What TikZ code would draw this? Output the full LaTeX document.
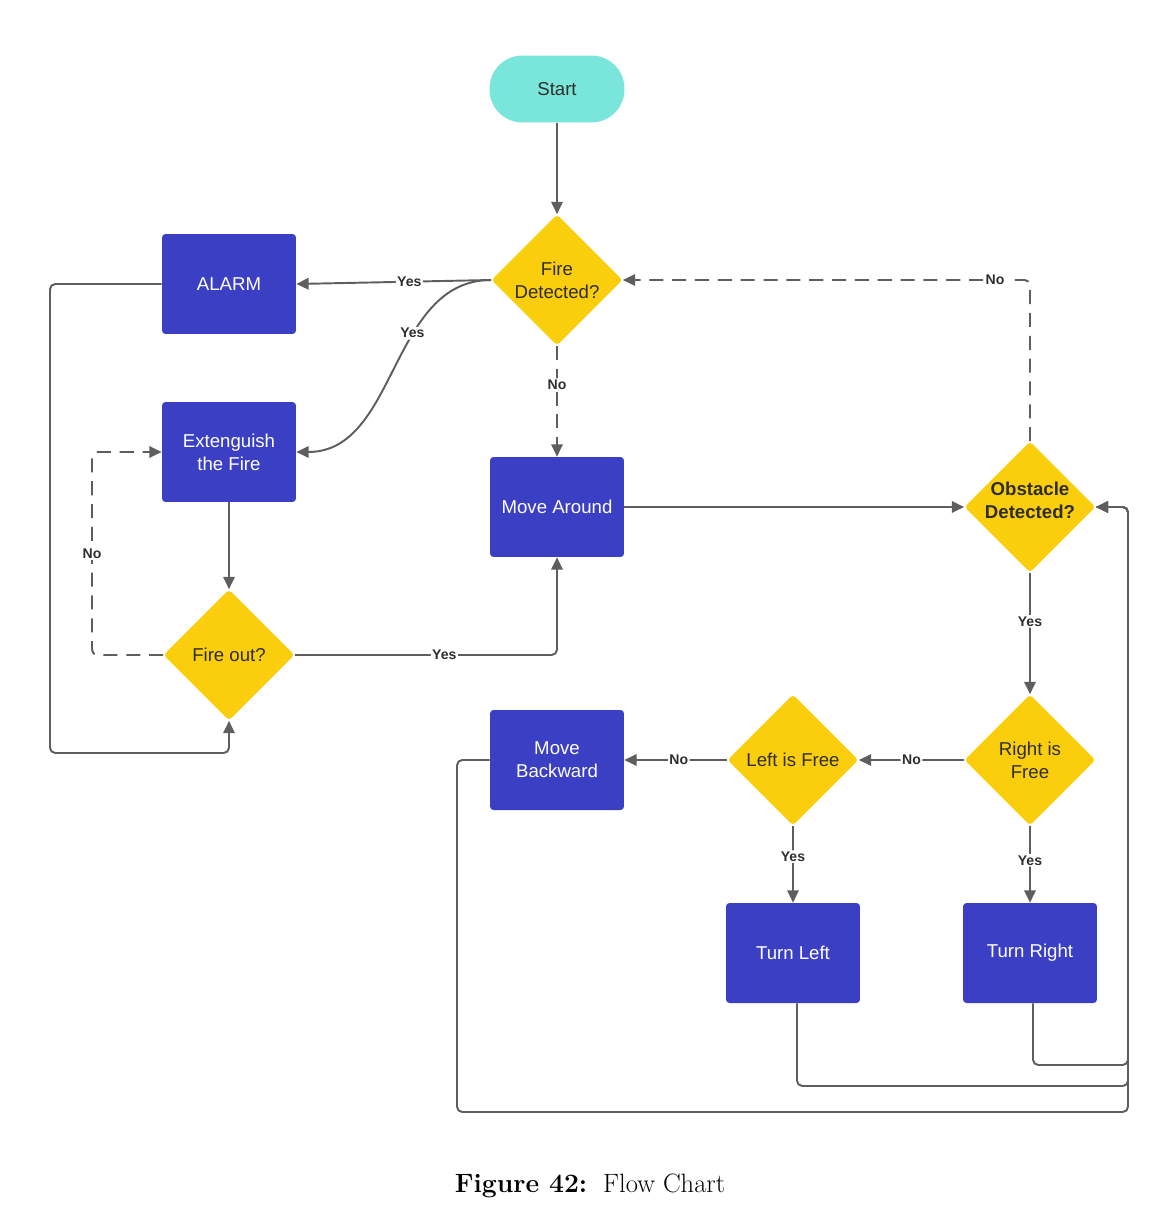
\documentclass[tikz,border=0pt]{standalone}
\usepackage{fontspec}
\newfontfamily\chartfont{Liberation Sans}
\usetikzlibrary{arrows.meta,positioning,shapes.geometric}

\definecolor{boxblue}{HTML}{3B3FC4}
\definecolor{diayellow}{HTML}{FACD0D}
\definecolor{startteal}{HTML}{7AE6DB}
\definecolor{linegray}{HTML}{5E5E5E}
\definecolor{darktext}{HTML}{2E2E2E}

\begin{document}
\begin{tikzpicture}[
    x=0.02cm, y=-0.02cm,
    align=center,
    font=\chartfont\fontsize{10.6}{13}\selectfont,
    >={Triangle[length=7pt,width=6.5pt]},
    term/.style={rectangle, rounded corners=0.66cm, fill=startteal,
      minimum width=2.7cm, minimum height=1.34cm, text=darktext},
    proc/.style={rectangle, rounded corners=2pt, fill=boxblue,
      minimum width=2.68cm, minimum height=2cm, text=white},
    decide/.style={diamond, aspect=1, rounded corners=2pt, fill=diayellow,
      minimum width=2.62cm, minimum height=2.62cm, inner sep=0pt, text=darktext},
    flow/.style={->, linegray, line width=1.1pt, rounded corners=3pt},
    noflow/.style={flow, dash pattern=on 8pt off 5pt},
    lbl/.style={fill=white, inner sep=0.8pt, text=darktext,
      font=\chartfont\fontsize{8}{9.6}\selectfont\bfseries}
  ]

  \useasboundingbox (0,0) rectangle (1149,1214);

  % main column

  \node (start)   [term]   at (557,89)   {Start};
  \node (fire)    [decide] at (557,280)  {Fire\\Detected?};
  \node (mvaround)[proc]   at (557,507)  {Move Around};
  \node (mback)   [proc]   at (557,760)  {Move\\Backward};

  % fire handling on the left

  \node (alarm)   [proc]   at (229,284)  {ALARM};
  \node (ext)     [proc]   at (229,452)  {Extenguish\\the Fire};
  \node (fout)    [decide] at (229,655)  {Fire out?};

  % obstacle handling on the right (text sits a little high)

  \node (obst)    [decide, label={[align=center, text=darktext, yshift=0.13cm,
                   font=\chartfont\fontsize{10.6}{13}\selectfont\bfseries]
                   center:Obstacle\\Detected?}]
                           at (1030,507) {};
  \node (rfree)   [decide] at (1030,760) {Right is\\Free};
  \node (lfree)   [decide] at (793,760)  {Left is Free};
  \node (tleft)   [proc]   at (793,953)  {Turn Left};
  \node (tright)  [proc]   at (1030,953) {Turn Right};

  % bend points for the long returns
  \coordinate (alarmrail) at (50,753);
  \coordinate (norail)    at (92,452);
  \coordinate (mbk)       at (457,760);
  \coordinate (rr)        at (1128,1065);
  \coordinate (rl)        at (1128,1086);
  \coordinate (rb)        at (1128,1112);

  \draw[flow]   (start)  -- (fire);
  \draw[flow]   (fire.west) -- node[lbl, pos=0.42] {Yes} (alarm.east);
  \draw[flow]   (fire.west) to[out=180, in=0] node[lbl, pos=0.37] {Yes} (ext.east);
  \draw[noflow] (fire) -- node[lbl, pos=0.35] {No} (mvaround);

  \draw[flow]   (alarm.west) -| (alarmrail) -| (fout.south);
  \draw[flow]   (ext) -- (fout);
  \draw[noflow] (fout.west) -| node[lbl, pos=0.75] {No} (norail) -- (ext.west);
  \draw[flow]   (fout.east) -| node[lbl, pos=0.285] {Yes} (mvaround.south);

  \draw[flow]   (mvaround.east) -- (obst.west);
  \draw[noflow] (obst.north) |- node[lbl, pos=0.543] {No} (fire.east);
  \draw[flow]   (obst) -- node[lbl, pos=0.4] {Yes} (rfree);

  \draw[flow]   (rfree.west) -- node[lbl, pos=0.5] {No} (lfree.east);
  \draw[flow]   (lfree.west) -- node[lbl, pos=0.47] {No} (mback.east);
  \draw[flow]   (lfree) -- node[lbl, pos=0.4] {Yes} (tleft);
  \draw[flow]   (rfree) -- node[lbl, pos=0.45] {Yes} (tright);

  \draw[flow]   ([xshift=0.06cm]tright.south) |- (rr) |- (obst.east);
  \draw[flow]   ([xshift=0.08cm]tleft.south)  |- (rl) |- (obst.east);
  \draw[flow]   (mback.west) -- (mbk) |- (rb) |- (obst.east);

  \node (caption) at (590,1186)
    {\normalfont\fontsize{15.1}{18}\selectfont\textbf{Figure 42:}\hspace{0.6em}Flow Chart};

\end{tikzpicture}
\end{document}
